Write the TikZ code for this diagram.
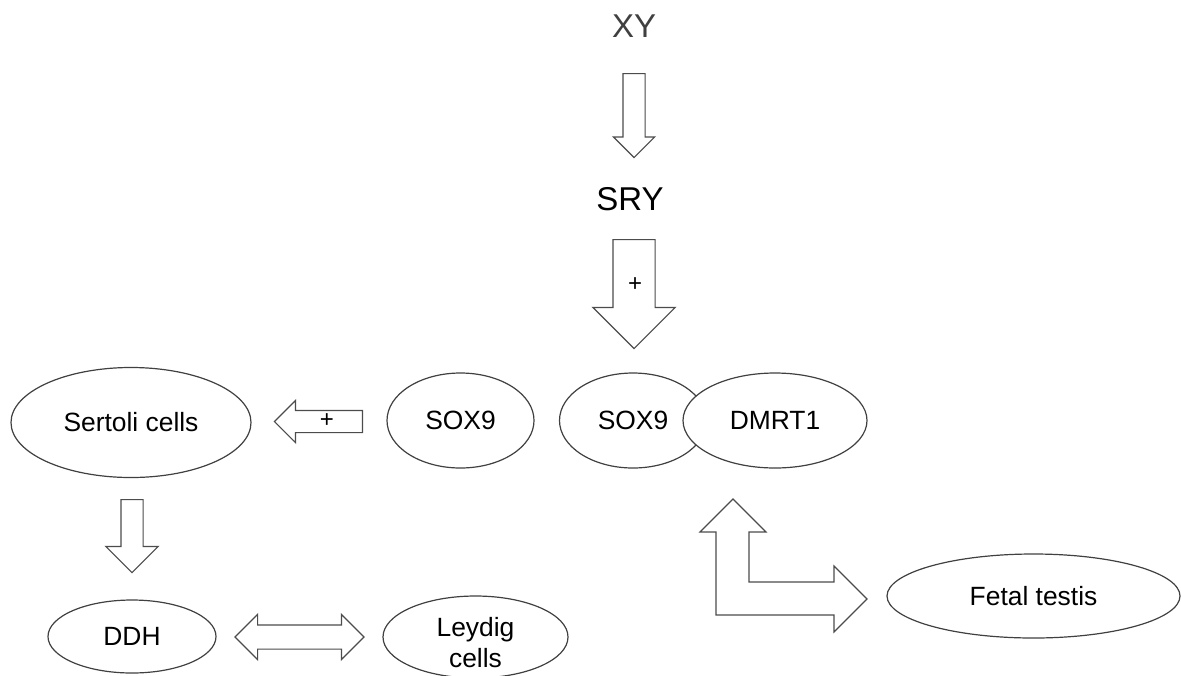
\documentclass[tikz,border=0pt]{standalone}
\usepackage{fontspec}
\setmainfont{Liberation Sans}
\usetikzlibrary{shapes.geometric}
\usetikzlibrary{shapes.arrows}

\begin{document}
\begin{tikzpicture}
[x=0.5pt,y=-0.5pt
,ov/.style={ellipse,draw=black!75,line width=0.6pt,fill=white,inner sep=0pt
  ,align=center,font=\fontsize{13.2}{15.5}\selectfont}
,big/.style={inner sep=0pt,font=\fontsize{16.5}{18}\selectfont}
,sa/.style={single arrow,draw=black!70,line width=0.6pt,fill=white,inner xsep=0pt
  ,single arrow tip angle=90}
,da/.style={double arrow,draw=black!70,line width=0.6pt,fill=white,inner xsep=0pt
  ,double arrow tip angle=90}
,pl/.style={inner sep=0pt,font=\fontsize{12}{14}\selectfont}]
\useasboundingbox (0,0) rectangle (1181,675);
% top of the cascade
\node[big,text=black!75] (xy) at (634,26) {XY};
\node[big] (sry) at (630,199) {SRY};
\node[sa,rotate=-90,anchor=tail,minimum height=42pt,inner ysep=5.25pt
  ,single arrow head extend=4.75pt] (a1) at (634,73) {};
\node[sa,rotate=-90,anchor=tail,minimum height=54.5pt,inner ysep=10.25pt
  ,single arrow head extend=10pt] (a2) at (634,239) {};
\node[pl] (p2) at (635,285) {+};
% ellipses
\node[ov,minimum width=73.5pt,minimum height=47.5pt] (sox9b) at (633,420.5) {SOX9};
\node[ov,minimum width=92pt,minimum height=47.5pt] (dmrt1) at (775,420.5) {DMRT1};
\node[ov,minimum width=73.5pt,minimum height=47.5pt] (sox9a) at (460.5,420.5) {SOX9};
\node[ov,minimum width=120pt,minimum height=55pt] (sertoli) at (131,422.5) {Sertoli cells};
\node[ov,minimum width=84pt,minimum height=36.5pt] (ddh) at (132,636.5) {DDH};
\node[ov,minimum width=92.5pt,minimum height=41pt
  ,label={[align=center,yshift=-3pt,font=\fontsize{13.2}{15.5}\selectfont]center:Leydig\\cells}]
  (leydig) at (475.5,637) {};
\node[ov,minimum width=146.5pt,minimum height=42pt] (fetal) at (1033.5,596) {Fetal testis};
% block arrows
\node[sa,rotate=180,anchor=tail,minimum height=44pt,inner ysep=5.25pt
  ,single arrow head extend=5pt] (a3) at (363,421.5) {};
\node[pl] (p3) at (327,421) {+};
\node[sa,rotate=-90,anchor=tail,minimum height=36.5pt,inner ysep=5.25pt
  ,single arrow head extend=7.5pt] (a4) at (132,499) {};
\node[da,minimum height=64.5pt,inner ysep=5.75pt
  ,double arrow head extend=5.25pt] (a5) at (299.5,637) {};
\draw[draw=black!70,line width=0.6pt,fill=white]
  (733,499) -- (766,532) -- (749,532) -- (749,582) -- (834,582) -- (834,566)
  -- (867,599) -- (834,632) -- (834,615) -- (716,615) -- (716,532) -- (700,532) -- cycle;
\end{tikzpicture}
\end{document}
